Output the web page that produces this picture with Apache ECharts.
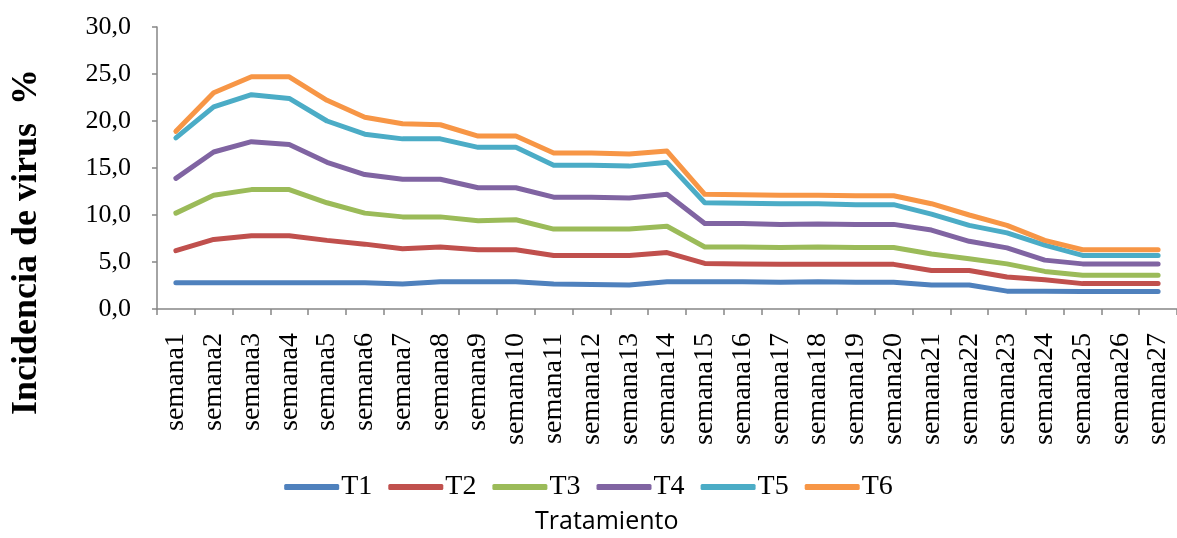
<!DOCTYPE html>
<html>
<head>
<meta charset="utf-8">
<script src="https://cdn.jsdelivr.net/npm/echarts@6/dist/echarts.min.js"></script>
<style>html,body{margin:0;padding:0;background:#fff;}#c{width:1177px;height:538px;}</style>
</head>
<body>
<div id="c"></div>
<script>
var categories = [];
for (var i = 1; i <= 27; i++) categories.push('semana' + i);

var T1 = [2.8,2.8,2.8,2.8,2.8,2.8,2.65,2.9,2.9,2.9,2.65,2.6,2.55,2.9,2.9,2.9,2.85,2.9,2.85,2.85,2.55,2.55,1.9,1.9,1.85,1.85,1.85];
var T2 = [6.2,7.4,7.8,7.8,7.3,6.9,6.4,6.6,6.3,6.3,5.7,5.7,5.7,6.0,4.85,4.8,4.75,4.75,4.75,4.75,4.1,4.1,3.4,3.1,2.7,2.7,2.7];
var T3 = [10.2,12.1,12.7,12.7,11.3,10.2,9.8,9.8,9.4,9.5,8.5,8.5,8.5,8.8,6.6,6.6,6.55,6.6,6.55,6.55,5.85,5.35,4.8,4.0,3.6,3.6,3.6];
var T4 = [13.9,16.7,17.8,17.5,15.6,14.3,13.8,13.8,12.9,12.9,11.9,11.9,11.8,12.2,9.1,9.1,9.0,9.05,9.0,9.0,8.4,7.2,6.5,5.2,4.8,4.8,4.8];
var T5 = [18.2,21.5,22.8,22.4,20.0,18.6,18.1,18.1,17.2,17.2,15.3,15.3,15.2,15.6,11.3,11.25,11.2,11.2,11.1,11.1,10.1,8.9,8.1,6.8,5.7,5.7,5.7];
var T6 = [18.9,23.0,24.7,24.7,22.2,20.4,19.7,19.6,18.4,18.4,16.6,16.6,16.5,16.8,12.2,12.15,12.1,12.1,12.05,12.05,11.2,10.0,8.9,7.3,6.3,6.3,6.3];
var seriesNames = ['T1','T2','T3','T4','T5','T6'];
var seriesData = [T1,T2,T3,T4,T5,T6];
var colors = ['#4F81BD','#C0504D','#9BBB59','#8064A2','#4BACC6','#F79646'];
var yTitle = 'Incidencia de virus  %';
var xTitle = 'Tratamiento';

var chart = echarts.init(document.getElementById('c'), null, {renderer:'canvas'});
var series = seriesNames.map(function(n, k){
  return {
    name: n, type: 'line', data: seriesData[k], showSymbol: false, symbol: 'none',
    lineStyle: {width: 5, color: colors[k], cap: 'round', join: 'round'},
    itemStyle: {color: colors[k]},
    animation: false
  };
});
chart.setOption({
  animation: false,
  color: colors,
  grid: {left: 157, top: 27, right: -7, bottom: 229, containLabel: false},
  title: {
    text: xTitle, left: 530, top: 504,
    textStyle: {fontFamily: 'Open Sans', fontSize: 25, fontWeight: 'normal', color: '#000'}
  },
  graphic: [{
    type: 'text', x: 27, y: 242, rotation: Math.PI / 2,
    style: {text: yTitle, fontFamily: 'Liberation Serif', fontSize: 36, fontWeight: 'bold',
      fill: '#000', align: 'center', verticalAlign: 'middle'}
  }],
  legend: {
    data: seriesNames, left: 'center', top: 468,
    icon: 'roundRect', itemWidth: 55, itemHeight: 6, itemGap: 16,
    textStyle: {fontFamily: 'Liberation Serif', fontSize: 28, color: '#000', padding: [0,0,0,-3]}
  },
  xAxis: {
    type: 'category', data: categories, boundaryGap: true,
    axisLine: {lineStyle: {color: '#868686', width: 1.5}},
    axisTick: {show: true, length: 6, lineStyle: {color: '#868686', width: 1.5}},
    axisLabel: {rotate: 90, interval: 0, margin: 24, fontFamily: 'Liberation Serif', fontSize: 28, color: '#000'}
  },
  yAxis: {
    type: 'value', min: 0, max: 30, interval: 5,
    splitLine: {show: false},
    axisLine: {show: true, lineStyle: {color: '#868686', width: 1.5}},
    axisTick: {show: true, length: 5, lineStyle: {color: '#868686', width: 1.5}},
    axisLabel: {margin: 26, fontFamily: 'Liberation Serif', fontSize: 26, color: '#000',
      formatter: function(v){ return v.toFixed(1).replace('.', ','); }}
  },
  series: series
});
</script>
</body>
</html>
